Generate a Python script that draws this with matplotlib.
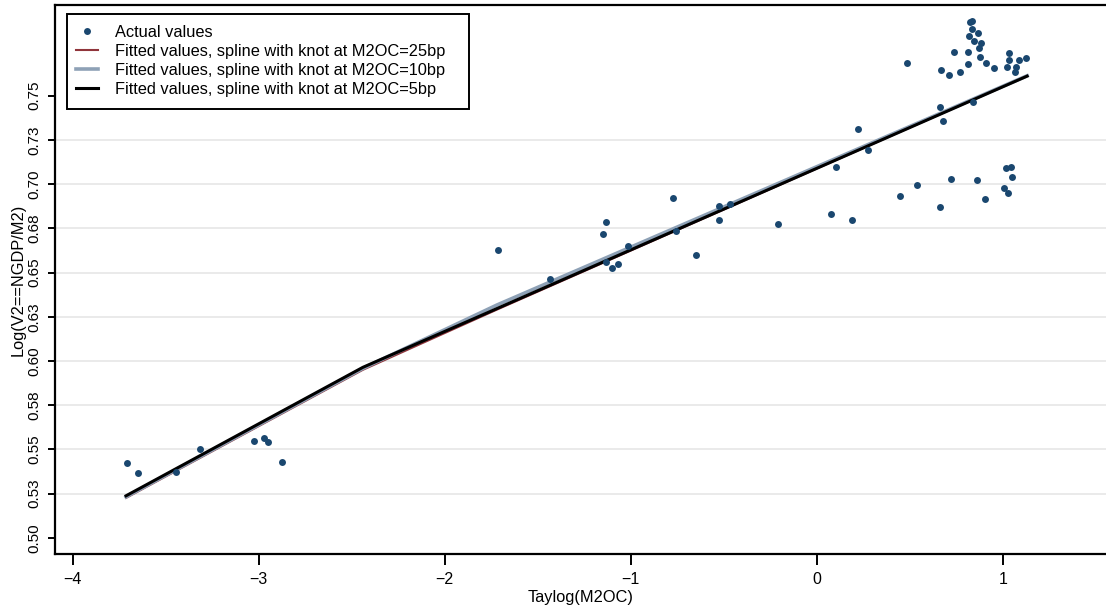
import matplotlib
matplotlib.use("Agg")
import matplotlib.pyplot as plt
from matplotlib.patches import Rectangle

plt.rcParams['font.family'] = ['Liberation Sans', 'DejaVu Sans']

# actual values
actual_x = [-3.710, -3.651, -3.446, -3.316, -3.025, -2.970, -2.948, -2.876,
            -1.715, -1.432, -1.147, -1.133, -1.133, -1.099, -1.068, -1.013,
            -0.771, -0.755, -0.651, -0.524, -0.525, -0.466, -0.210,
            0.104, 0.222, 0.274, 0.078, 0.188, 0.449, 0.541, 0.484,
            0.661, 0.665, 0.677, 0.668, 0.710, 0.724, 0.738, 0.769,
            0.815, 0.815, 0.817, 0.824, 0.835, 0.835, 0.839, 0.846,
            0.863, 0.866, 0.874, 0.882, 0.878, 0.903, 0.909, 0.953,
            1.009, 1.018, 1.022, 1.029, 1.032, 1.034, 1.046, 1.050,
            1.065, 1.070, 1.086, 1.127]
actual_y = [0.5421, 0.5368, 0.5370, 0.5502, 0.5547, 0.5564, 0.5540, 0.5430,
            0.6630, 0.6466, 0.6719, 0.6785, 0.6562, 0.6527, 0.6547, 0.6651,
            0.6922, 0.6734, 0.6600, 0.6875, 0.6796, 0.6890, 0.6775,
            0.7094, 0.7310, 0.7195, 0.6830, 0.6798, 0.6935, 0.6992, 0.7685,
            0.6873, 0.7434, 0.7357, 0.7644, 0.7617, 0.7031, 0.7745, 0.7632,
            0.7745, 0.7679, 0.7839, 0.7916, 0.7920, 0.7879, 0.7464, 0.7811,
            0.7024, 0.7853, 0.7771, 0.7799, 0.7717, 0.6918, 0.7683, 0.7658,
            0.6977, 0.7092, 0.7662, 0.6950, 0.7700, 0.7741, 0.7099, 0.7041,
            0.7634, 0.7660, 0.7702, 0.7713]

# fitted splines (vertices)
fit25_x = [-3.713, -2.44, -1.72, 1.131]
fit25_y = [0.5226, 0.5950, 0.6290, 0.7612]
fit10_x = [-3.713, -2.44, -1.72, 1.131]
fit10_y = [0.5232, 0.5958, 0.6316, 0.7612]
fit5_x = [-3.713, -2.44, 1.131]
fit5_y = [0.5238, 0.5964, 0.7610]

yticks = [0.500, 0.525, 0.550, 0.575, 0.600, 0.625, 0.650, 0.675, 0.700, 0.725, 0.750]
ylabels = ['0.50', '0.53', '0.55', '0.58', '0.60', '0.63', '0.65', '0.68', '0.70', '0.73', '0.75']
xticks = [-4, -3, -2, -1, 0, 1]

fig = plt.figure(figsize=(11.06, 6.06), dpi=100)
ax = fig.add_axes([55/1106, 1-554/606, 1-55/1106, (554-5)/606])

for g in yticks[1:-1]:
    ax.axhline(g, color='#e6e6e6', lw=1.2, zorder=0)

ax.plot(actual_x, actual_y, 'o', color='#1a476f', ms=5.0, mew=0,
        label='Actual values', zorder=4)
ax.plot(fit25_x, fit25_y, color='#90353b', lw=1.5,
        label='Fitted values, spline with knot at M2OC=25bp', zorder=2)
ax.plot(fit10_x, fit10_y, color='#8ea1b6', lw=2.6,
        label='Fitted values, spline with knot at M2OC=10bp', zorder=2.5)
ax.plot(fit5_x, fit5_y, color='black', lw=2.2,
        label='Fitted values, spline with knot at M2OC=5bp', zorder=3)

ax.set_xlim(-4.095, 1.555)
ax.set_ylim(0.4909, 0.8012)
ax.set_xticks(xticks)
ax.set_xticklabels(['\u22124', '\u22123', '\u22122', '\u22121', '0', '1'])
ax.set_yticks(yticks)
ax.set_yticklabels(ylabels, rotation=90, va='center')
ax.tick_params(axis='x', length=8, width=1.4, pad=5, labelsize=11.5)
ax.tick_params(axis='y', length=5, width=1.4, pad=5, labelsize=11)
for s in ['top', 'left', 'bottom']:
    ax.spines[s].set_linewidth(1.6)
ax.spines['right'].set_visible(False)

ax.set_xlabel('Taylog(M2OC)', fontsize=11.8, labelpad=2)
ax.set_ylabel('Log(V2==NGDP/M2)', fontsize=11.8, labelpad=1)

# legend frame drawn separately (wider right padding than matplotlib gives)
ax.add_patch(Rectangle((67/1106, 1-109/606), (469-67)/1106, (109-14)/606,
                       transform=fig.transFigure, facecolor='white',
                       edgecolor='black', lw=1.4, zorder=5, clip_on=False))
leg = ax.legend(loc='upper left', bbox_to_anchor=(76/1106, 1-25/606),
                bbox_transform=fig.transFigure, borderaxespad=0,
                fontsize=11.8, frameon=False,
                handlelength=1.35, handletextpad=1.05, labelspacing=0.24,
                borderpad=0.0, numpoints=1)
leg.set_zorder(6)

fig.savefig('out.png', dpi=100)
